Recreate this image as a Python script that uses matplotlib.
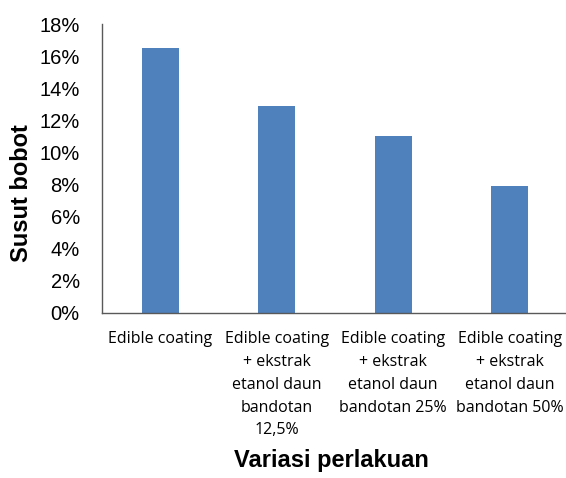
import matplotlib
matplotlib.use("Agg")
import matplotlib.pyplot as plt
from matplotlib.ticker import FuncFormatter

categories = [
    "Edible coating",
    "Edible coating\n+ ekstrak\netanol daun\nbandotan\n12,5%",
    "Edible coating\n+ ekstrak\netanol daun\nbandotan 25%",
    "Edible coating\n+ ekstrak\netanol daun\nbandotan 50%",
]
susut_bobot = [0.165, 0.129, 0.110, 0.079]

fig = plt.figure(figsize=(5.66, 4.78), dpi=100)
ax = fig.add_axes([102 / 566, 1 - 313 / 478, 466 / 566, 289 / 478])

x = range(len(categories))
ax.bar(x, susut_bobot, width=0.32, color="#4f81bd")

ax.set_xlim(-0.5, len(categories) - 0.5)
ax.set_ylim(0, 0.18)
ax.set_yticks([i / 100 for i in range(0, 19, 2)])
ax.yaxis.set_major_formatter(FuncFormatter(lambda v, p: f"{round(v * 100)}%"))
ax.set_xticks(list(x))
ax.set_xticklabels(categories, family="Open Sans", fontsize=11.5, linespacing=1.57, va="top")

for lbl in ax.get_yticklabels():
    lbl.set_family("Liberation Sans")
    lbl.set_fontsize(14.5)

ax.tick_params(axis="y", length=0, pad=16)
ax.tick_params(axis="x", length=0, pad=13)
for s in ["top", "right"]:
    ax.spines[s].set_visible(False)
for s in ["left", "bottom"]:
    ax.spines[s].set_color("#595959")
    ax.spines[s].set_linewidth(1)

fig.text(22 / 566, 1 - 193 / 478, "Susut bobot", rotation=90, ha="center", va="center",
         family="Liberation Sans", fontweight="bold", fontsize=17)
fig.text(331 / 566, 1 - 461 / 478, "Variasi perlakuan", ha="center", va="center",
         family="Liberation Sans", fontweight="bold", fontsize=17)

fig.savefig("out.png", dpi=100)
